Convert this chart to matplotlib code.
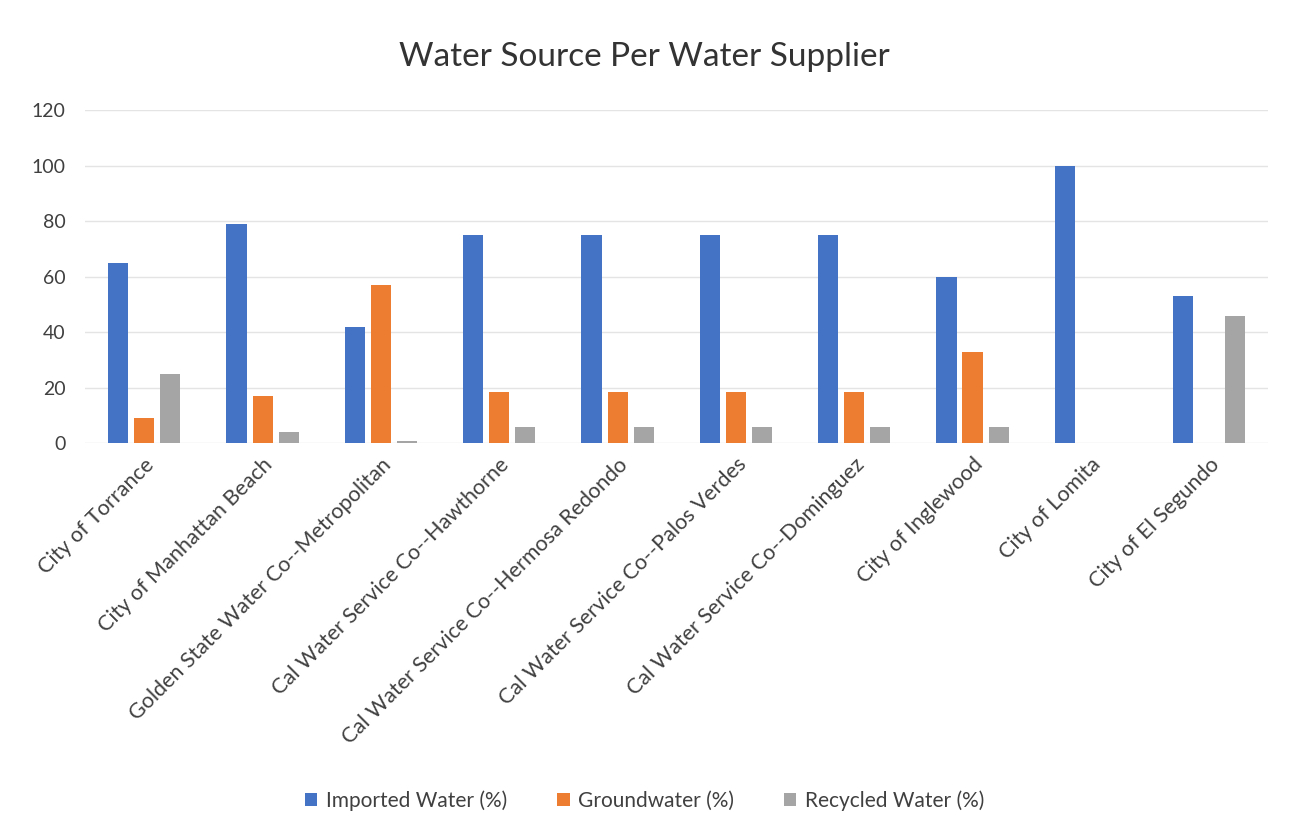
import matplotlib.pyplot as plt
import numpy as np

# Water suppliers and their source shares (%)
suppliers = [
    "City of Torrance",
    "City of Manhattan Beach",
    "Golden State Water Co--Metropolitan",
    "Cal Water Service Co--Hawthorne",
    "Cal Water Service Co--Hermosa Redondo",
    "Cal Water Service Co--Palos Verdes",
    "Cal Water Service Co--Dominguez",
    "City of Inglewood",
    "City of Lomita",
    "City of El Segundo",
]
imported = [65, 79, 42, 75, 75, 75, 75, 60, 100, 53]
groundwater = [9, 17, 57, 18.5, 18.5, 18.5, 18.5, 33, 0, 0]
recycled = [25, 4, 0.8, 6, 6, 6, 6, 6, 0, 46]

plt.rcParams['font.family'] = ['Lato', 'DejaVu Sans']

fig = plt.figure(figsize=(12.89, 8.15), dpi=100)
ax = fig.add_axes([0.066, 0.456, 0.918, 0.409])

x = np.arange(len(suppliers))
w = 0.17
step = 0.22
ax.bar(x - step, imported, w, color="#4472C4", label="Imported Water (%)", zorder=3)
ax.bar(x, groundwater, w, color="#ED7D31", label="Groundwater (%)", zorder=3)
ax.bar(x + step, recycled, w, color="#A5A5A5", label="Recycled Water (%)", zorder=3)

ax.set_xlim(-0.5, len(suppliers) - 0.5)
ax.set_ylim(0, 120)
ax.set_yticks(range(0, 121, 20))
ax.grid(axis="y", color="#E4E4E4", linewidth=1, zorder=0)
for s in ax.spines.values():
    s.set_visible(False)
ax.tick_params(axis="both", length=0, labelcolor="#404040")
ax.tick_params(axis="y", pad=14, labelsize=14)
ax.set_xticks(x)
ax.set_xticklabels(suppliers, rotation=45, ha="right", rotation_mode="anchor")
ax.tick_params(axis="x", pad=8, labelsize=15.5)

fig.text(0.5, 0.93, "Water Source Per Water Supplier", ha="center", va="center",
         fontsize=24, color="#333333")

fig.legend(loc="center", bbox_to_anchor=(0.5, 0.018), ncol=3, frameon=False,
           fontsize=15, handlelength=0.6, handleheight=0.6, columnspacing=2.4,
           handletextpad=0.4, labelcolor="#404040")

fig.savefig("out.png", dpi=100, facecolor="white")
